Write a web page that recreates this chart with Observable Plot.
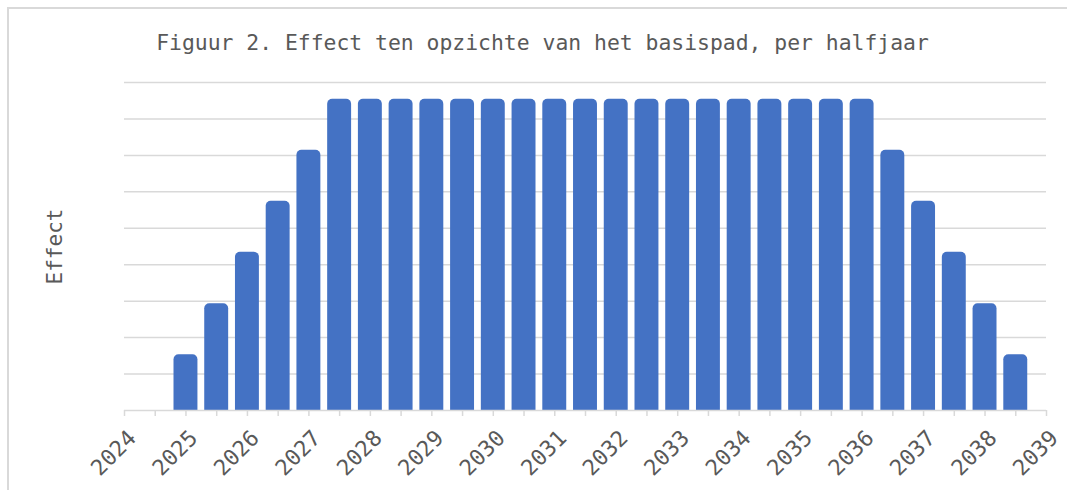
<!DOCTYPE html>
<html>
<head>
<meta charset="utf-8">
<script src="https://cdn.jsdelivr.net/npm/d3@7"></script>
<script src="https://cdn.jsdelivr.net/npm/@observablehq/plot@0.6"></script>
<style>
  html, body { margin: 0; padding: 0; background: #fff; }
  #wrap { position: relative; width: 1067px; height: 490px; overflow: hidden; }
  #border { position: absolute; left: 7px; top: 7px; width: 1080px; height: 500px;
            border-left: 2px solid #d9d9d9; border-top: 2px solid #d9d9d9; box-sizing: border-box; }
  #chart { position: absolute; left: 0; top: 0; }
</style>
</head>
<body>
<div id="wrap"><div id="border"></div><div id="chart"></div></div>
<script>
// Data (arbitrary units; gridline spacing = 1)
const periods = [2025, 2025.5, 2026, 2026.5, 2027, 2027.5, 2028, 2028.5, 2029, 2029.5,
  2030, 2030.5, 2031, 2031.5, 2032, 2032.5, 2033, 2033.5, 2034, 2034.5,
  2035, 2035.5, 2036, 2036.5, 2037, 2037.5, 2038, 2038.5];
const effects = [1.53, 2.93, 4.34, 5.74, 7.14, 8.54, 8.54, 8.54, 8.54, 8.54,
  8.54, 8.54, 8.54, 8.54, 8.54, 8.54, 8.54, 8.54, 8.54, 8.54,
  8.54, 8.54, 8.54, 7.14, 5.74, 4.34, 2.93, 1.53];
const yearLabels = d3.range(2024, 2040);
const halfYearTicks = d3.range(2024, 2039.01, 0.5);
const gridValues = d3.range(1, 10);
const title = "Figuur 2. Effect ten opzichte van het basispad, per halfjaar";
const yLabel = "Effect";

const data = periods.map((p, i) => ({period: p, effect: effects[i]}));
const half = 0.25;
const grey = "#d9d9d9";
const textGrey = "#595959";
const barColor = "#4472c4";

const chart = Plot.plot({
  width: 1067,
  height: 490,
  marginLeft: 124,
  marginRight: 21,
  marginTop: 82,
  marginBottom: 80,
  style: {fontFamily: "'DejaVu Sans Mono', monospace", background: "transparent"},
  x: {domain: [2024, 2039], axis: null},
  y: {domain: [0, 9], axis: null},
  marks: [
    Plot.gridY(gridValues, {stroke: grey, strokeOpacity: 1, strokeWidth: 1.5}),
    Plot.rectY(data, {x1: d => d.period - half, x2: d => d.period + half, y1: -0.3, y2: "effect",
      fill: barColor, insetLeft: 3.4, insetRight: 3.4, rx: 5, clip: true}),
    Plot.ruleY([0], {stroke: grey, strokeWidth: 1.5}),
    Plot.axisX({ticks: halfYearTicks, tickSize: 6, stroke: grey, strokeWidth: 1.5, tickFormat: () => "", label: null}),
    Plot.axisX({ticks: yearLabels, tickSize: 0, tickPadding: 10, tickRotate: -45, fill: textGrey,
      fontSize: 22, dx: 8, dy: 14, tickFormat: d => String(d), label: null}),
    Plot.text([title], {frameAnchor: "top", dx: -43, dy: -48, fontSize: 21.4, fill: textGrey}),
    Plot.text([yLabel], {frameAnchor: "left", textAnchor: "middle", dx: -69, rotate: -90, fontSize: 21, fill: textGrey})
  ]
});
document.getElementById("chart").appendChild(chart);
</script>
</body>
</html>
